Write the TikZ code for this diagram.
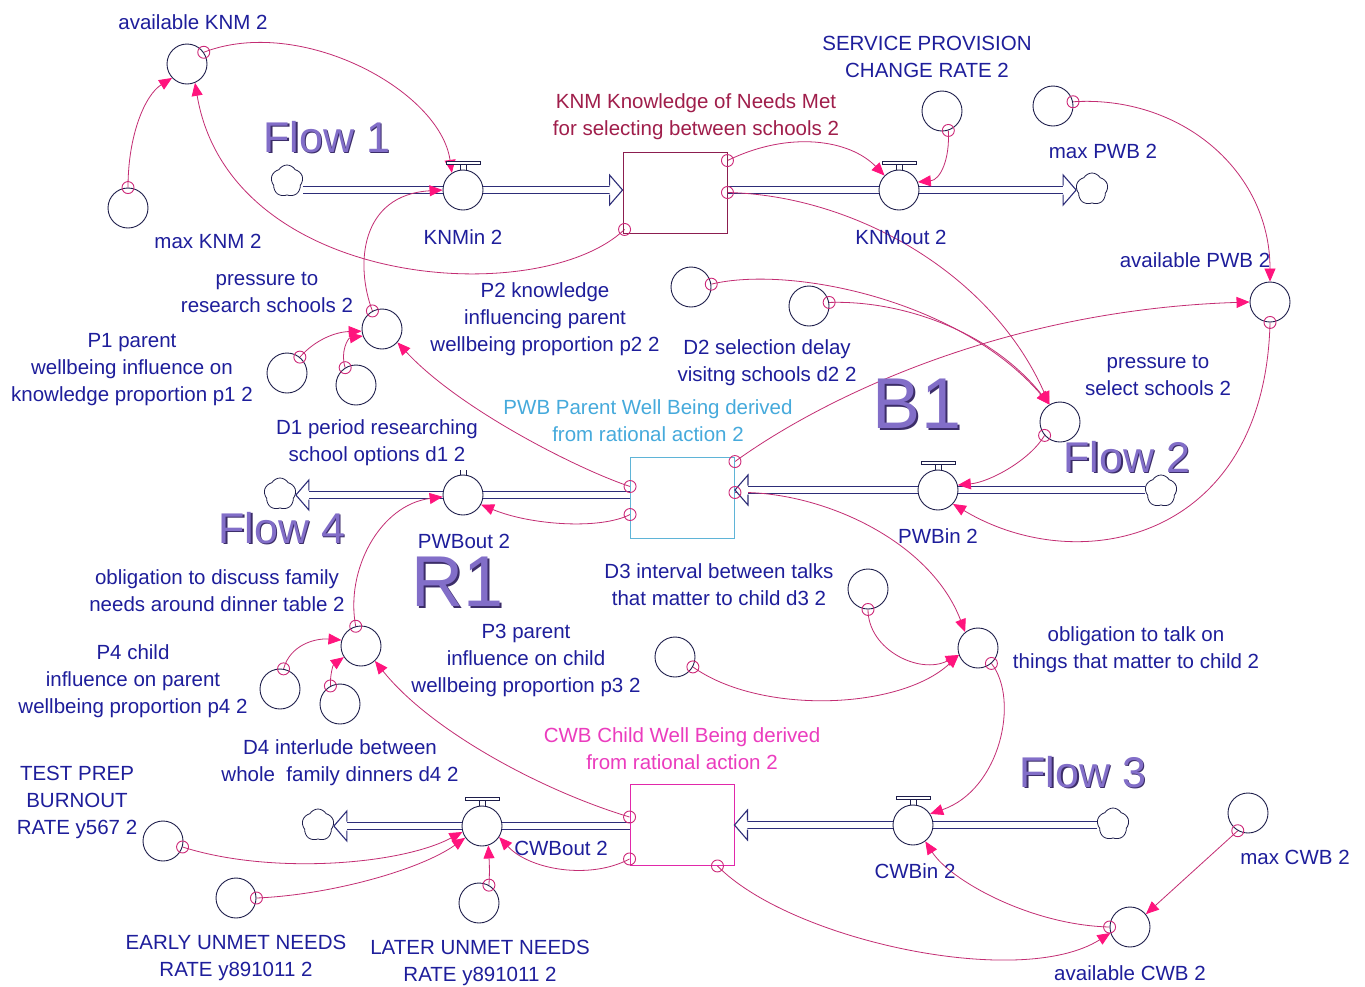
\documentclass[tikz,border=0pt]{standalone}
\usepackage{fontspec}
\setmainfont{Liberation Sans}
\usetikzlibrary{arrows.meta,shapes.symbols,calc}
\pgfdeclarelayer{bg}
\pgfdeclarelayer{paper}
\pgfsetlayers{paper,bg,main}
\definecolor{navytxt}{RGB}{30,30,155}
\definecolor{outl}{RGB}{30,30,75}
\definecolor{pipecol}{RGB}{45,45,120}
\definecolor{linkcol}{RGB}{195,45,115}
\definecolor{tipcol}{RGB}{255,20,125}
\definecolor{mkcol}{RGB}{205,40,120}
\definecolor{knmcol}{RGB}{140,30,80}
\definecolor{knmtxt}{RGB}{160,30,75}
\definecolor{pwbcol}{RGB}{95,180,215}
\definecolor{pwbtxt}{RGB}{70,170,220}
\definecolor{cwbcol}{RGB}{225,40,170}
\definecolor{cwbtxt}{RGB}{235,60,190}
\definecolor{purp}{RGB}{130,110,200}
\definecolor{purpdark}{RGB}{60,45,105}
\tikzset{
  lbl/.style={text=navytxt, font=\fontsize{20.5}{27}\selectfont, align=center, inner sep=0pt},
  aux/.style={circle, draw=outl, line width=0.9pt, minimum size=40pt, inner sep=0pt},
  valve/.style={circle, draw=outl, fill=white, line width=0.9pt, minimum size=40pt, inner sep=0pt},
  stock/.style={rectangle, line width=0.9pt, minimum width=104pt, minimum height=81pt, inner sep=0pt},
  cloudnode/.style={cloud, cloud puffs=5, cloud puff arc=120, aspect=1, draw=outl, fill=white, line width=0.8pt, minimum width=32pt, minimum height=32pt, inner sep=0pt},
  pipe/.style={draw=pipecol, line width=1.2pt, double=white, double distance=6.5pt},
  link/.style={draw=linkcol, line width=0.8pt, -{Triangle[length=13pt,width=11pt,color=tipcol]}},
  startmk/.style={draw=mkcol, line width=0.9pt},
  big/.style={font=\fontsize{43}{43}\selectfont, inner sep=0pt},
  huge/.style={font=\fontsize{72}{72}\selectfont, inner sep=0pt},
  pipehead/.pic={
    \fill[white] (-13,-15) -- (0,0) -- (-13,15) -- cycle;
    \draw[pipecol, line width=1.1pt] (-13,-4.5) -- (-13,-15) -- (0,0) -- (-13,15) -- (-13,4.5);
  }
}
\begin{document}
\begin{tikzpicture}[x=1pt,y=-1pt]
\useasboundingbox (0,0) rectangle (1365,986);
\begin{pgfonlayer}{paper}
\fill[white] (0,0) rectangle (1365,986);
\end{pgfonlayer}

% stocks
\node[stock, draw=knmcol] (knm) at (675,192.5) {};
\node[stock, draw=pwbcol] (pwb) at (682.5,497.5) {};
\node[stock, draw=cwbcol] (cwb) at (682,825) {};

% valves
\node[valve] (knmin) at (463,190) {};
\node[valve] (knmout) at (899,190) {};
\node[valve] (pwbin) at (938,490) {};
\node[valve] (pwbout) at (463,495) {};
\node[valve] (cwbin) at (913,825) {};
\node[valve] (cwbout) at (482,826) {};

% clouds
\node[cloudnode] (c1) at (287,181) {};
\node[cloudnode] (c2) at (1092,189) {};
\node[cloudnode] (c3) at (1161,491) {};
\node[cloudnode] (c4) at (280,494) {};
\node[cloudnode] (c5) at (1113,824) {};
\node[cloudnode] (c6) at (318,825) {};

% auxiliaries
\node[aux] (availKNM) at (187,64) {};
\node[aux] (maxKNM) at (128,208) {};
\node[aux] (serv) at (942,111) {};
\node[aux] (maxPWB) at (1053,106) {};
\node[aux] (availPWB) at (1270,302) {};
\node[aux] (presR) at (382,329) {};
\node[aux] (p1) at (287,373) {};
\node[aux] (d1) at (356,385) {};
\node[aux] (p2) at (691,287) {};
\node[aux] (d2) at (809,306) {};
\node[aux] (presS) at (1060,422) {};
\node[aux] (d3) at (868,589) {};
\node[aux] (oblT) at (978,648) {};
\node[aux] (p3) at (675,657) {};
\node[aux] (oblD) at (361,646) {};
\node[aux] (p4) at (280,689) {};
\node[aux] (d4) at (340,704) {};
\node[aux] (test) at (163,841) {};
\node[aux] (early) at (236,898) {};
\node[aux] (later) at (479,903) {};
\node[aux] (maxCWB) at (1248,813) {};
\node[aux] (availCWB) at (1130,927) {};

% valve handles
\foreach \v in {knmin,knmout,pwbin,cwbin,cwbout} {
  \draw[outl, line width=0.9pt] ($(\v.north)+(-3,0)$) -- ++(0,-5) ($(\v.north)+(3,0)$) -- ++(0,-5);
  \draw[outl, line width=0.9pt, fill=white] ($(\v.north)+(-17,-5)$) rectangle ++(34,-3.5);
}
\draw[outl, line width=0.9pt] ($(pwbout.north)+(-3,0)$) -- ++(0,-5) ($(pwbout.north)+(3,0)$) -- ++(0,-5);

\begin{pgfonlayer}{bg}
% pipes
\draw[pipe] (c1.east |- knmin.center) -- ($(knm.west |- knmin.center)+(-13,0)$);
\draw[pipe] (knm.east |- knmout.center) -- ($(c2.west |- knmout.center)+(-13,0)$);
\draw[pipe] (c3.west |- pwbin.center) -- ($(pwb.east |- pwbin.center)+(13,0)$);
\draw[pipe] (pwb.west |- pwbout.center) -- ($(c4.east |- pwbout.center)+(13,0)$);
\draw[pipe] (c5.west |- cwbin.center) -- ($(cwb.east |- cwbin.center)+(13,0)$);
\draw[pipe] (cwb.west |- cwbout.center) -- ($(c6.east |- cwbout.center)+(13,0)$);

% links
\draw[link] (maxKNM.90) .. controls (128,135) and (145,95) .. (availKNM.223);
\draw[link] (availKNM.35) .. controls (300,15) and (440,90) .. (knmin.123);
\draw[link] ($(knm.south west)+(2,-4)$) .. controls (540,310) and (230,290) .. (availKNM.293);
\draw[link] (presR.118) .. controls (355,265) and (360,195) .. (knmin.180);
\draw[link] ($(knm.north east)+(0,9)$) .. controls (790,130) and (850,140) .. (knmout.135);
\draw[link] (serv.288) .. controls (950,160) and (940,180) .. (knmout.23);
\draw[link] (knm.east) .. controls (850,195) and (990,270) .. (presS.121);
\draw[link] (p2.8) .. controls (790,265) and (960,300) .. (presS.121);
\draw[link] (d2.10) .. controls (900,300) and (990,330) .. (presS.121);
\draw[link] ($(pwb.north east)+(0,5)$) .. controls (820,400) and (1000,310) .. (availPWB.180);
\draw[link] (maxPWB.12) .. controls (1180,95) and (1270,170) .. (availPWB.90);
\draw[link] (availPWB.270) .. controls (1265,540) and (1080,580) .. (pwbin.317);
\draw[link] (presS.221) .. controls (1030,460) and (990,482) .. (pwbin.14);
\draw[link] ($(pwb.west)+(0,-11)$) .. controls (580,470) and (460,410) .. (presR.319);
\draw[link] ($(pwb.west)+(0,17)$) .. controls (600,530) and (530,525) .. (pwbout.332);
\draw[link] (p1.51) .. controls (315,340) and (335,332) .. (presR.186);
\draw[link] (d1.122) .. controls (340,352) and (348,338) .. (presR.200);
\draw[link] (oblD.105) .. controls (345,570) and (380,505) .. (pwbout.185);
\draw[link] ($(pwb.east)+(0,-5)$) .. controls (820,490) and (930,540) .. (oblT.129);
\draw[link] (d3.270) .. controls (868,650) and (920,675) .. (oblT.200);
\draw[link] (p3.331) .. controls (760,715) and (900,710) .. (oblT.200);
\draw[link] (oblT.311) .. controls (1020,700) and (1000,790) .. (cwbin.33);
\draw[link] (availCWB.180) .. controls (1030,925) and (950,880) .. (cwbin.307);
\draw[link] (maxCWB.240) -- (availCWB.39);
\draw[link] ($(cwb.south east)+(-17,0)$) .. controls (790,940) and (1020,990) .. (availCWB.197);
\draw[link] ($(cwb.west)+(0,-8)$) .. controls (540,790) and (430,730) .. (oblD.313);
\draw[link] ($(cwb.south west)+(0,-7)$) .. controls (590,880) and (530,870) .. (cwbout.327);
\draw[link] (p4.80) .. controls (290,645) and (315,638) .. (oblD.163);
\draw[link] (d4.118) .. controls (330,675) and (333,665) .. (oblD.213);
\draw[link] (test.343) .. controls (270,875) and (400,865) .. (cwbout.197);
\draw[link] (early.0) .. controls (330,895) and (420,870) .. (cwbout.215);
\draw[link] (later.61) .. controls (490,870) and (489,858) .. (cwbout.288);
\end{pgfonlayer}

% pipe heads
\pic at (knm.west |- knmin.center) {pipehead};
\pic at (c2.west |- knmout.center) {pipehead};
\pic[rotate=180] at (pwb.east |- pwbin.center) {pipehead};
\pic[rotate=180] at (c4.east |- pwbout.center) {pipehead};
\pic[rotate=180] at (cwb.east |- cwbin.center) {pipehead};
\pic[rotate=180] at (c6.east |- cwbout.center) {pipehead};

% start markers
\foreach \p in {maxKNM.90, availKNM.35, presR.118, serv.288, p2.8, d2.10, maxPWB.12, availPWB.270, presS.221, p1.51, d1.122, oblD.105, d3.270, p3.331, oblT.311, availCWB.180, maxCWB.240, p4.80, d4.118, test.343, early.0, later.61, knm.east} {
  \draw[startmk] (\p) circle[radius=6];
}
\draw[startmk] ($(knm.south west)+(2,-4)$) circle[radius=6];
\draw[startmk] ($(knm.north east)+(0,9)$) circle[radius=6];
\draw[startmk] ($(pwb.north east)+(0,5)$) circle[radius=6];
\draw[startmk] ($(pwb.west)+(0,-11)$) circle[radius=6];
\draw[startmk] ($(pwb.west)+(0,17)$) circle[radius=6];
\draw[startmk] ($(pwb.east)+(0,-5)$) circle[radius=6];
\draw[startmk] ($(cwb.south east)+(-17,0)$) circle[radius=6];
\draw[startmk] ($(cwb.west)+(0,-8)$) circle[radius=6];
\draw[startmk] ($(cwb.south west)+(0,-7)$) circle[radius=6];

% labels
\node[lbl] (tAvailKNM) at (193,22) {available KNM 2};
\node[lbl] (tMaxKNM) at (208,241) {max KNM 2};
\node[lbl, text=knmtxt] (tKNM) at (696,117) {KNM Knowledge of Needs Met\\for selecting between schools 2};
\node[lbl] (tServ) at (927,57) {SERVICE PROVISION\\CHANGE RATE 2};
\node[lbl] (tMaxPWB) at (1103,151) {max PWB 2};
\node[lbl] (tKNMin) at (463,237) {KNMin 2};
\node[lbl] (tKNMout) at (901,237) {KNMout 2};
\node[lbl] (tAvailPWB) at (1195,260) {available PWB 2};
\node[lbl] (tPresR) at (267,292) {pressure to\\research schools 2};
\node[lbl] (tP2) at (545,319) {P2 knowledge\\influencing parent\\wellbeing proportion p2 2};
\node[lbl] (tP1) at (132,370) {P1 parent\\wellbeing influence on\\knowledge proportion p1 2};
\node[lbl] (tD2) at (767,363) {D2 selection delay\\visitng schools d2 2};
\node[lbl] (tPresS) at (1158,375) {pressure to\\select schools 2};
\node[lbl, text=pwbtxt] (tPWB) at (648,421) {PWB Parent Well Being derived\\from rational action 2};
\node[lbl] (tD1) at (377,443) {D1 period researching\\school options d1 2};
\node[lbl] (tPWBout) at (464,541) {PWBout 2};
\node[lbl] (tPWBin) at (938,536) {PWBin 2};
\node[lbl] (tD3) at (719,585) {D3 interval between talks\\that matter to child d3 2};
\node[lbl] (tOblD) at (217,591) {obligation to discuss family\\needs around dinner table 2};
\node[lbl] (tOblT) at (1136,650) {obligation to talk on\\things that matter to child 2};
\node[lbl] (tP3) at (526,660) {P3 parent\\influence on child\\wellbeing proportion p3 2};
\node[lbl] (tP4) at (133,681) {P4 child\\influence on parent\\wellbeing proportion p4 2};
\node[lbl, text=cwbtxt] (tCWB) at (682,749) {CWB Child Well Being derived\\from rational action 2};
\node[lbl] (tD4) at (340,763) {D4 interlude between\\whole\ \ family dinners d4 2};
\node[lbl] (tTest) at (77,802) {TEST PREP\\BURNOUT\\RATE y567 2};
\node[lbl] (tCWBout) at (561,848) {CWBout 2};
\node[lbl] (tMaxCWB) at (1295,857) {max CWB 2};
\node[lbl] (tCWBin) at (915,871) {CWBin 2};
\node[lbl] (tEarly) at (236,958) {EARLY UNMET NEEDS\\RATE y891011 2};
\node[lbl] (tLater) at (480,963) {LATER UNMET NEEDS\\RATE y891011 2};
\node[lbl] (tAvailCWB) at (1130,973) {available CWB 2};

% big loop / flow labels
\node[big, text=purpdark] (f1s) at (328.5,138.5) {Flow 1};
\node[big, text=purp] (f1) at (327,137) {Flow 1};
\node[big, text=purpdark] (f2s) at (1128.5,458.5) {Flow 2};
\node[big, text=purp] (f2) at (1127,457) {Flow 2};
\node[big, text=purpdark] (f3s) at (1084.5,773.5) {Flow 3};
\node[big, text=purp] (f3) at (1083,772) {Flow 3};
\node[big, text=purpdark] (f4s) at (283.5,529.5) {Flow 4};
\node[big, text=purp] (f4) at (282,528) {Flow 4};
\node[huge, text=purpdark] (b1s) at (919,406) {B1};
\node[huge, text=purp] (b1) at (917,404) {B1};
\node[huge, text=purpdark] (r1s) at (460,584) {R1};
\node[huge, text=purp] (r1) at (458,582) {R1};
\end{tikzpicture}
\end{document}
